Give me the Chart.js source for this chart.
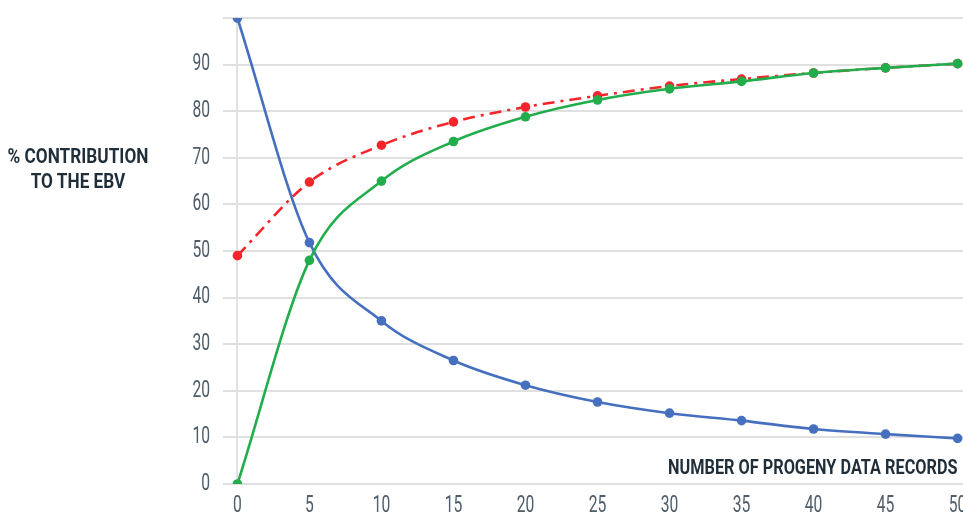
<!DOCTYPE html>
<html>
<head>
<meta charset="utf-8">
<title>Progeny records and EBV contribution</title>
<script src="https://cdn.jsdelivr.net/npm/chart.js@4"></script>
<style>
  html, body { margin: 0; padding: 0; background: #fff; overflow: hidden; width: 963px; height: 521px; }
  #wrap { position: absolute; left: 0; top: 0; width: 980px; height: 521px; }
  .axis-title {
    position: absolute;
    font-family: "Roboto", "Liberation Sans", sans-serif;
    font-weight: bold;
    color: #1f2e39;
    white-space: nowrap;
    font-size: 21px;
  }
  #yTitle { left: 78px; top: 144px; text-align: center; line-height: 25px; transform: translateX(-50%) scaleX(0.82); }
  #xTitle { right: 5px; top: 455px; line-height: 24px; transform-origin: right center; transform: scaleX(0.775); }
</style>
</head>
<body>
<div id="wrap">
  <canvas id="chart" width="980" height="521"></canvas>
</div>
<div id="yTitle" class="axis-title">% CONTRIBUTION<br>TO THE EBV</div>
<div id="xTitle" class="axis-title">NUMBER OF PROGENY DATA RECORDS</div>

<script>
// number of progeny records on the x axis
const records = [0, 5, 10, 15, 20, 25, 30, 35, 40, 45, 50];

// % of the EBV coming from the animal's own / parent info (blue)
const ownInfo = [100, 51.8, 35, 26.5, 21.2, 17.6, 15.2, 13.6, 11.8, 10.7, 9.8];
// % coming from progeny data (green)
const progenyInfo = [0, 48, 65, 73.5, 78.8, 82.4, 84.8, 86.4, 88.2, 89.3, 90.2];
// accuracy curve (red dash-dot)
const accuracy = [49, 64.8, 72.7, 77.7, 80.9, 83.3, 85.4, 86.9, 88.2, 89.3, 90.2];

const yTicks = [0, 10, 20, 30, 40, 50, 60, 70, 80, 90, 100];

const tickColor = '#4d5d69';

// narrow tall tick labels: draw them squeezed horizontally
const condensedTicks = {
  id: 'condensedTicks',
  afterDraw(chart) {
    const ctx = chart.ctx;
    const xs = chart.scales.x, ys = chart.scales.y;
    ctx.save();
    ctx.font = '23px Roboto, "Liberation Sans", sans-serif';
    ctx.fillStyle = tickColor;
    ctx.textBaseline = 'middle';
    const squeeze = 0.68;

    ctx.textAlign = 'right';
    ys.ticks.forEach(t => {
      if (t.value === 100) return;
      const y = ys.getPixelForValue(t.value);
      ctx.save();
      ctx.translate(ys.right - 13, y);
      ctx.scale(squeeze, 1);
      ctx.fillText(String(t.value), 0, 0);
      ctx.restore();
    });

    ctx.textAlign = 'center';
    xs.ticks.forEach(t => {
      const x = xs.getPixelForValue(t.value);
      ctx.save();
      ctx.translate(x, xs.top + 22);
      ctx.scale(squeeze, 1);
      ctx.fillText(String(t.value), 0, 0);
      ctx.restore();
    });
    ctx.restore();
  }
};

function toPoints(values) {
  return records.map((x, i) => ({ x: x, y: values[i] }));
}

function lineSet(label, values, color, dash) {
  return {
    label: label,
    data: toPoints(values),
    borderColor: color,
    backgroundColor: color,
    borderWidth: 2.6,
    borderDash: dash || [],
    pointRadius: 4.8,
    pointBorderWidth: 0,
    pointBackgroundColor: color,
    cubicInterpolationMode: 'monotone',
    fill: false
  };
}

new Chart(document.getElementById('chart'), {
  type: 'line',
  data: {
    datasets: [
      lineSet('Progeny', progenyInfo, '#22ad4c'),
      lineSet('Own', ownInfo, '#4670bf'),
      lineSet('Accuracy', accuracy, '#f5252b', [12, 6, 3, 6])
    ]
  },
  plugins: [condensedTicks],
  options: {
    responsive: false,
    animation: false,
    devicePixelRatio: 1,
    layout: { padding: { left: 193, right: 8, top: 18, bottom: 0 } },
    plugins: { legend: { display: false }, tooltip: { enabled: false } },
    scales: {
      x: {
        type: 'linear',
        min: -1,
        max: 51,
        afterBuildTicks: scale => {
          scale.ticks = records.map(v => ({ value: v }));
        },
        afterFit: scale => { scale.height = 37; },
        border: { display: false },
        grid: {
          drawTicks: false,
          lineWidth: 2,
          color: ctx => (ctx.tick && ctx.tick.value === 0 ? '#e2e2e2' : 'rgba(0,0,0,0)')
        },
        ticks: { display: false }
      },
      y: {
        min: 0,
        max: 100,
        afterBuildTicks: scale => {
          scale.ticks = yTicks.map(v => ({ value: v }));
        },
        afterFit: scale => { scale.width = 30; },
        border: { display: false },
        grid: { drawTicks: false, color: '#e0e0e0', lineWidth: 2 },
        ticks: { display: false }
      }
    }
  }
});
</script>
</body>
</html>
